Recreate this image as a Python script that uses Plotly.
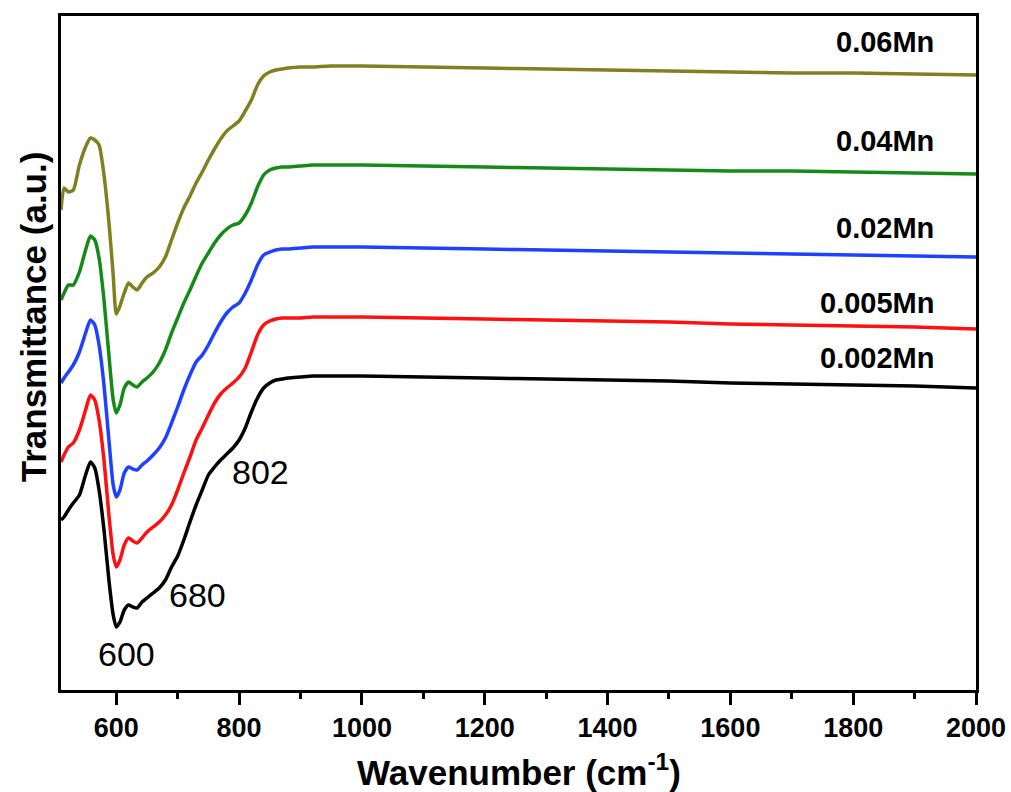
import plotly.graph_objects as go

wavenumber = [510, 515, 522, 530, 540, 550, 558, 565, 572, 580, 588, 595, 600, 606, 613, 620, 627, 634,
              642, 650, 660, 670, 680, 690, 700, 710, 720, 730, 740, 750, 760, 770, 780, 790, 800, 810,
              820, 830, 840, 850, 860, 870, 880, 900, 920, 950, 1000, 1100, 1200, 1300, 1400, 1500, 1600,
              1700, 1800, 1900, 2000]

mn_0002 = [170, 173, 180, 187, 195, 215, 228, 222, 200, 160, 110, 75, 63, 68, 80, 85, 83, 82, 88, 92, 97,
           102, 110, 123, 134, 150, 168, 185, 200, 215, 223, 230, 236, 242, 250, 262, 278, 292, 302, 307,
           310, 311, 312, 313, 314, 314, 314, 313, 312, 311, 310, 309, 307, 306, 305, 304, 302]
mn_0005 = [228, 235, 243, 247, 260, 280, 295, 290, 270, 230, 175, 135, 123, 130, 145, 152, 149, 147, 152,
           158, 163, 168, 175, 185, 200, 217, 233, 250, 262, 275, 287, 296, 302, 307, 313, 322, 338, 355,
           365, 369, 371, 372, 372, 372, 373, 373, 373, 372, 371, 370, 369, 368, 366, 365, 364, 363, 361]
mn_002 = [307, 312, 318, 325, 338, 357, 370, 365, 345, 305, 250, 205, 193, 200, 217, 223, 221, 220, 225,
          229, 235, 242, 252, 267, 283, 300, 315, 328, 335, 345, 357, 368, 377, 383, 387, 397, 410, 425,
          435, 438, 440, 441, 441, 442, 443, 443, 443, 442, 441, 440, 439, 438, 437, 436, 435, 434, 433]
mn_004 = [390, 397, 405, 405, 418, 440, 454, 450, 432, 390, 335, 290, 277, 285, 302, 308, 305, 303, 308,
          312, 318, 327, 340, 357, 372, 387, 400, 414, 427, 437, 447, 455, 461, 465, 467, 475, 487, 503,
          515, 520, 522, 523, 523, 524, 525, 525, 525, 524, 523, 522, 521, 520, 519, 519, 518, 517, 516]
mn_006 = [480, 502, 498, 500, 525, 543, 552, 550, 545, 515, 468, 415, 376, 384, 397, 407, 403, 400, 407,
          413, 417, 423, 433, 450, 467, 482, 494, 507, 518, 530, 541, 551, 559, 564, 569, 579, 590, 605,
          614, 618, 620, 621, 622, 623, 623, 624, 624, 623, 622, 621, 620, 619, 618, 617, 617, 616, 615]

series_names = ["0.002Mn", "0.005Mn", "0.02Mn", "0.04Mn", "0.06Mn"]
series_values = [mn_0002, mn_0005, mn_002, mn_004, mn_006]
series_colors = ["#000000", "#ff1010", "#1e40ff", "#168a16", "#808020"]
label_y = [332, 387, 462, 549, 648]

peak_labels = ["600", "680", "802"]
peak_x = [616, 732, 835]
peak_y = [36, 95, 218]

x_ticks = [600, 800, 1000, 1200, 1400, 1600, 1800, 2000]

fig = go.Figure()
for name, vals, col in zip(series_names, series_values, series_colors):
    fig.add_trace(go.Scatter(x=wavenumber, y=vals, mode="lines", name=name,
                             line=dict(color=col, width=3.5, shape="spline", smoothing=0.6)))

for name, ly in zip(series_names, label_y):
    fig.add_annotation(x=1935, y=ly, text="<b>%s</b>" % name, showarrow=False,
                       xanchor="right", yanchor="middle",
                       font=dict(family="Liberation Sans", size=29, color="black"))

for t, px, py in zip(peak_labels, peak_x, peak_y):
    fig.add_annotation(x=px, y=py, text=t, showarrow=False, xanchor="center", yanchor="middle",
                       font=dict(family="Liberation Sans", size=34, color="black"))

fig.add_annotation(xref="paper", yref="paper", x=0, y=0.553, xshift=-28, text="<b>Transmittance (a.u.)</b>",
                   textangle=-90, showarrow=False, xanchor="center", yanchor="middle",
                   font=dict(family="Liberation Sans", size=35, color="black"))
fig.add_annotation(xref="paper", yref="paper", x=0.5, y=0, yshift=-80,
                   text="<b>Wavenumber (cm<sup>-1</sup>)</b>", showarrow=False,
                   xanchor="center", yanchor="middle",
                   font=dict(family="Liberation Sans", size=35, color="black"))

fig.update_layout(
    width=1011, height=792, margin=dict(l=61, r=35, t=16, b=102, autoexpand=False),
    paper_bgcolor="white", plot_bgcolor="white", showlegend=False,
    font=dict(family="Liberation Sans", color="black"),
)
fig.update_xaxes(range=[510, 2000], tickvals=x_ticks, ticktext=["<b>%d</b>" % v for v in x_ticks],
                 ticks="outside", ticklen=12, tickwidth=2.5, tickcolor="black",
                 minor=dict(dtick=100, ticks="outside", ticklen=6, tickwidth=2.5, tickcolor="black"),
                 tickfont=dict(family="Liberation Sans", size=27, color="black"),
                 showline=True, linecolor="black", linewidth=2.5, mirror=True, showgrid=False,
                 zeroline=False, automargin=False)
fig.update_yaxes(range=[0, 674], showticklabels=False, ticks="", showline=True, linecolor="black",
                 linewidth=2.5, mirror=True, showgrid=False, zeroline=False, automargin=False)

fig.write_html("out.html")
